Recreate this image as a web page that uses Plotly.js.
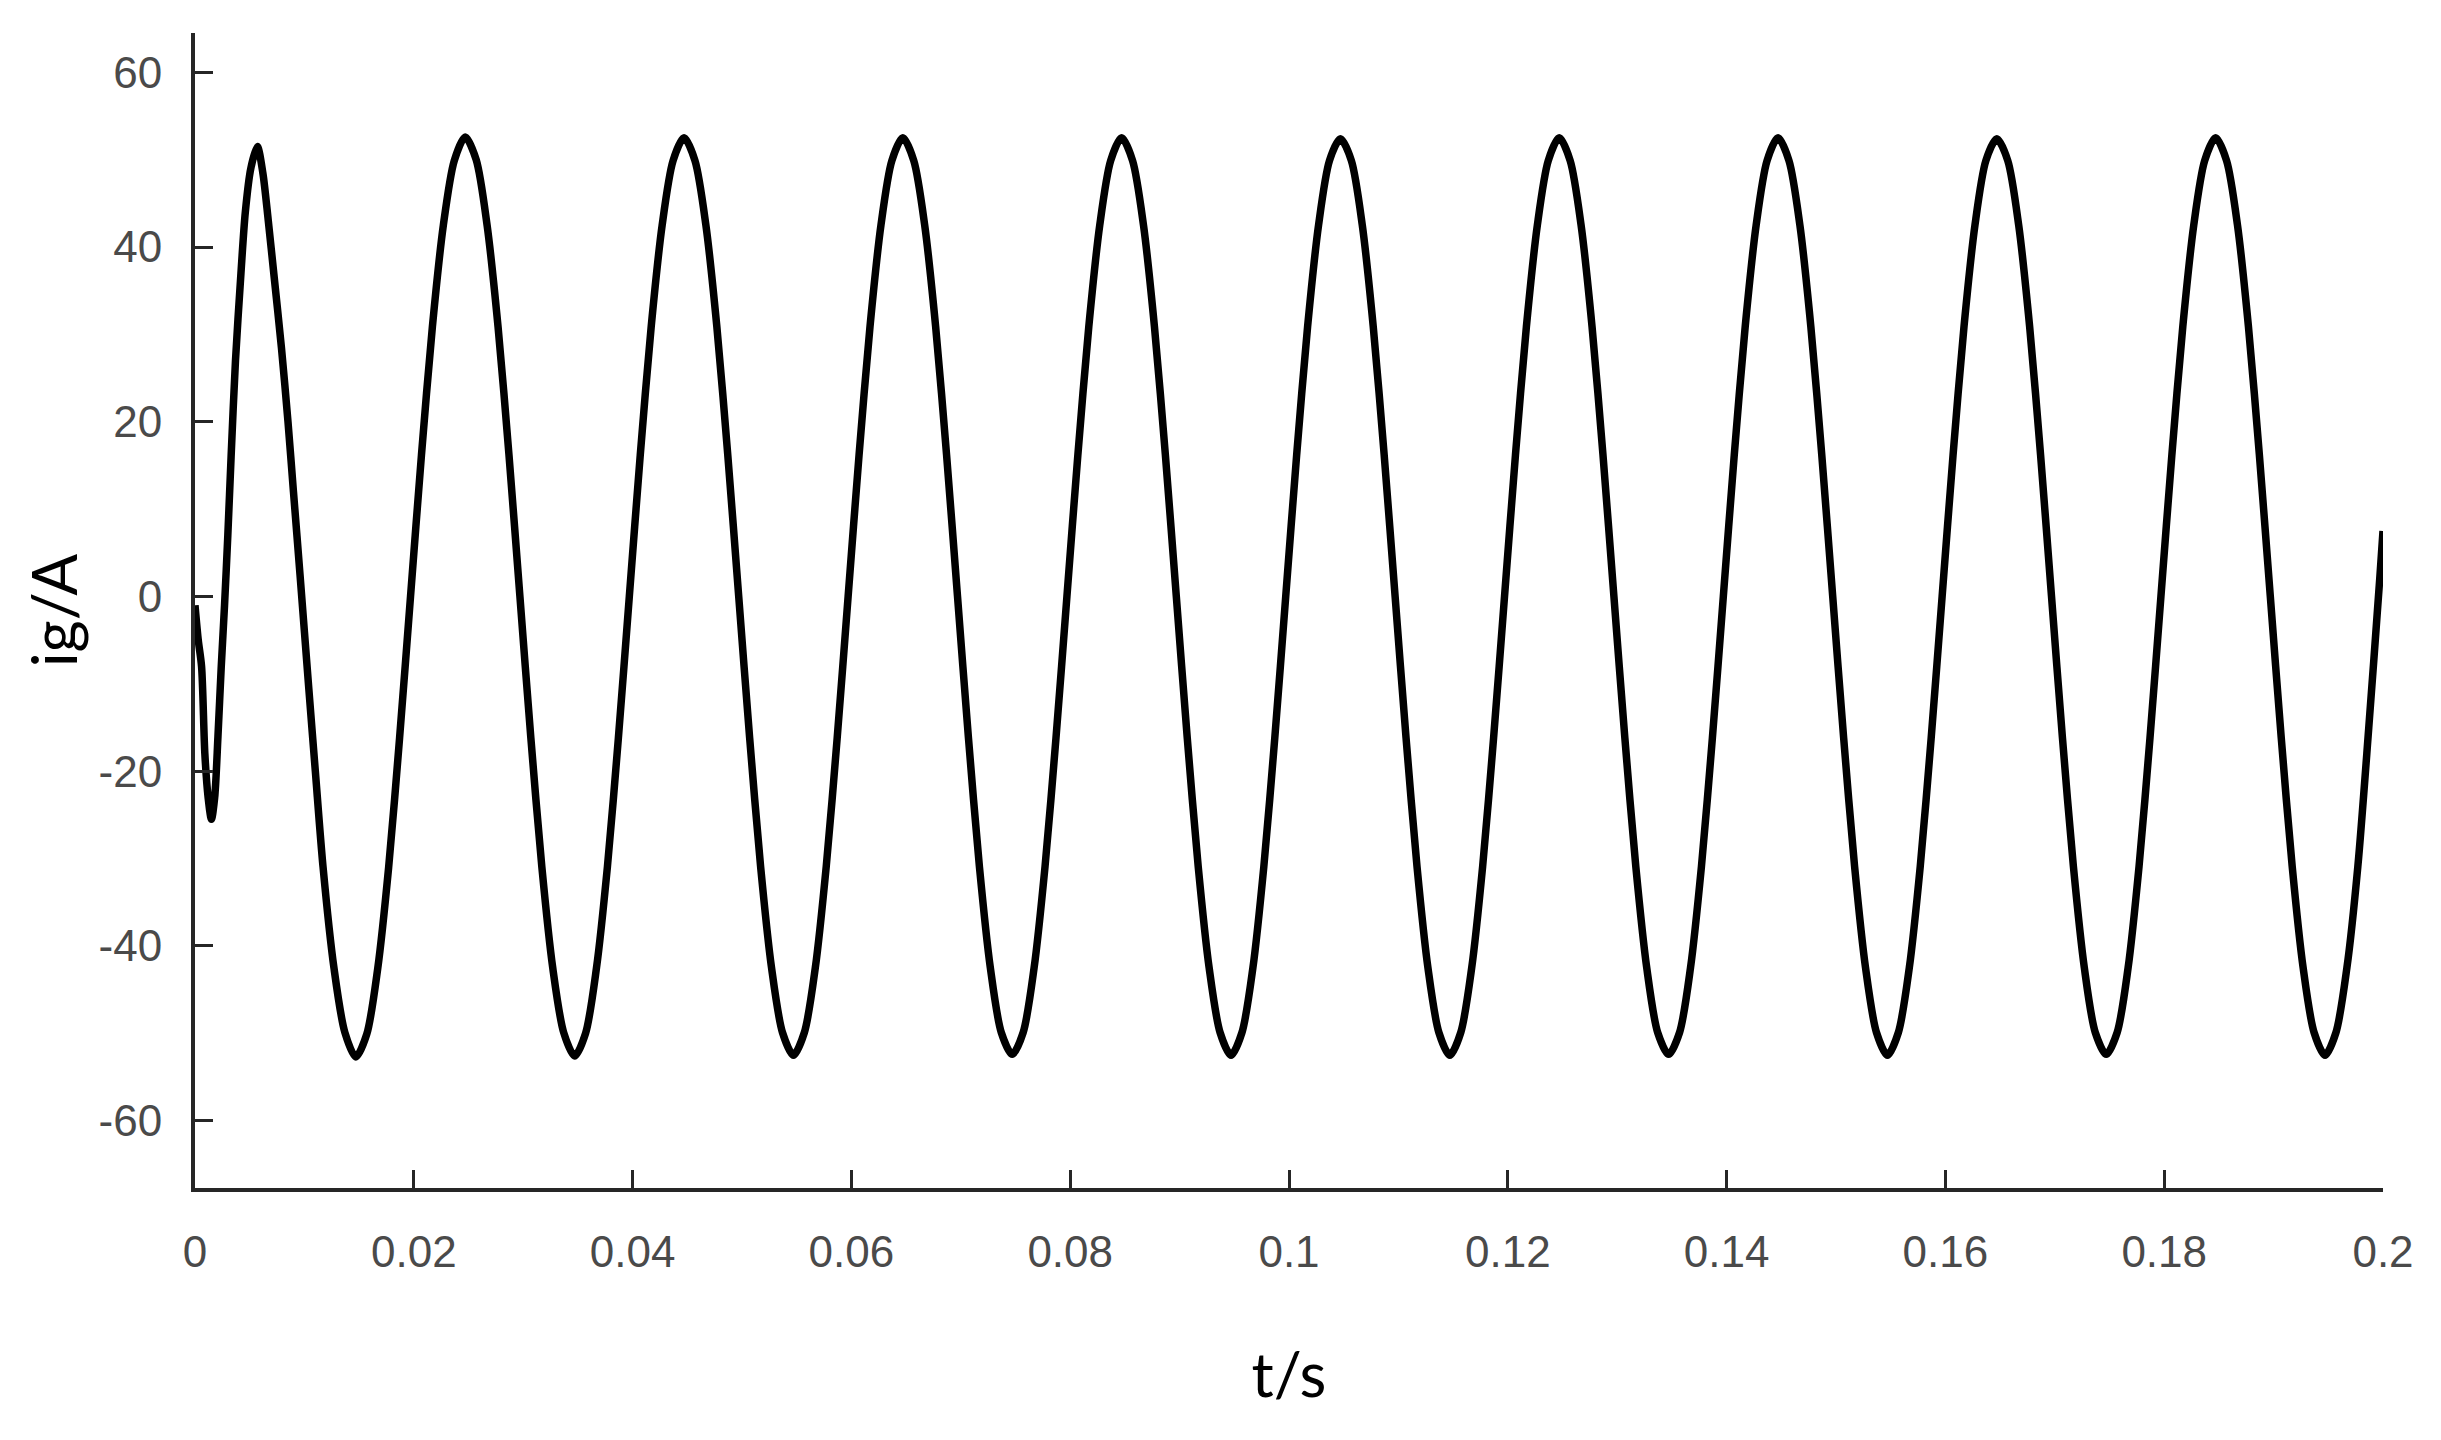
<!DOCTYPE html>
<html>
<head>
<meta charset="utf-8">
<script src="https://cdn.plot.ly/plotly-3.0.1.min.js"></script>
<style>
  html, body { margin: 0; padding: 0; background: #fff; }
  #graph { width: 2441px; height: 1440px; }
</style>
</head>
<body>
<div id="graph"></div>
<script>
// time axis (s)
const tStart = [0, 0.0003, 0.0006, 0.0009, 0.0012, 0.0015, 0.0018, 0.0021, 0.0024, 0.0027,
                0.003, 0.0033, 0.0037, 0.0042, 0.0046, 0.0051, 0.0057, 0.0062, 0.0067, 0.0072,
                0.0079, 0.0085, 0.009, 0.0096, 0.0104, 0.011, 0.0117, 0.0127, 0.0137];
const tRest = [
  0.0147,0.0157,0.0167,0.0177,0.0187,0.0197,0.0207,0.0217,0.0227,0.0237,0.0247,0.0257,0.0267,0.0277,0.0287,0.0297,0.0307,0.0317,0.0327,0.0337,
  0.0347,0.0357,0.0367,0.0377,0.0387,0.0397,0.0407,0.0417,0.0427,0.0437,0.0447,0.0457,0.0467,0.0477,0.0487,0.0497,0.0507,0.0517,0.0527,0.0537,
  0.0547,0.0557,0.0567,0.0577,0.0587,0.0597,0.0607,0.0617,0.0627,0.0637,0.0647,0.0657,0.0667,0.0677,0.0687,0.0697,0.0707,0.0717,0.0727,0.0737,
  0.0747,0.0757,0.0767,0.0777,0.0787,0.0797,0.0807,0.0817,0.0827,0.0837,0.0847,0.0857,0.0867,0.0877,0.0887,0.0897,0.0907,0.0917,0.0927,0.0937,
  0.0947,0.0957,0.0967,0.0977,0.0987,0.0997,0.1007,0.1017,0.1027,0.1037,0.1047,0.1057,0.1067,0.1077,0.1087,0.1097,0.1107,0.1117,0.1127,0.1137,
  0.1147,0.1157,0.1167,0.1177,0.1187,0.1197,0.1207,0.1217,0.1227,0.1237,0.1247,0.1257,0.1267,0.1277,0.1287,0.1297,0.1307,0.1317,0.1327,0.1337,
  0.1347,0.1357,0.1367,0.1377,0.1387,0.1397,0.1407,0.1417,0.1427,0.1437,0.1447,0.1457,0.1467,0.1477,0.1487,0.1497,0.1507,0.1517,0.1527,0.1537,
  0.1547,0.1557,0.1567,0.1577,0.1587,0.1597,0.1607,0.1617,0.1627,0.1637,0.1647,0.1657,0.1667,0.1677,0.1687,0.1697,0.1707,0.1717,0.1727,0.1737,
  0.1747,0.1757,0.1767,0.1777,0.1787,0.1797,0.1807,0.1817,0.1827,0.1837,0.1847,0.1857,0.1867,0.1877,0.1887,0.1897,0.1907,0.1917,0.1927,0.1937,
  0.1947,0.1957,0.1967,0.1977,0.1987,0.1997,0.2
];

// grid current ig (A)
const igStart = [-1, -5, -8, -18, -23, -25.5, -23, -16, -8, -1,
                 7, 16, 27, 37, 44, 49, 51.5, 48.5, 43, 37,
                 28.5, 20, 12, 2.5, -10.5, -20, -30.9, -42.5, -49.9];
const igRest = [
  -52.7,-50.1,-42.6,-31,-16.2,0,16.2,30.9,42.5,49.9,52.6,50,42.5,30.9,16.2,0,-16.2,-30.9,-42.5,-49.9,
  -52.6,-50,-42.5,-30.9,-16.2,0,16.2,30.9,42.5,49.9,52.5,49.9,42.5,30.9,16.2,0,-16.2,-30.9,-42.5,-49.9,
  -52.5,-49.9,-42.5,-30.9,-16.2,0,16.2,30.9,42.5,49.9,52.5,49.9,42.5,30.9,16.2,0,-16.2,-30.9,-42.5,-49.9,
  -52.4,-49.9,-42.5,-30.9,-16.2,0,16.2,30.9,42.5,49.9,52.5,49.9,42.5,30.9,16.2,0,-16.2,-30.9,-42.5,-49.9,
  -52.5,-49.9,-42.5,-30.9,-16.2,0,16.2,30.9,42.5,49.9,52.4,49.9,42.5,30.9,16.2,0,-16.2,-30.9,-42.5,-49.9,
  -52.5,-49.9,-42.5,-30.9,-16.2,0,16.2,30.9,42.5,49.9,52.5,49.9,42.5,30.9,16.2,0,-16.2,-30.9,-42.5,-49.9,
  -52.4,-49.9,-42.5,-30.9,-16.2,0,16.2,30.9,42.5,49.9,52.5,49.9,42.5,30.9,16.2,0,-16.2,-30.9,-42.5,-49.9,
  -52.5,-49.9,-42.5,-30.9,-16.2,0,16.2,30.9,42.5,49.9,52.4,49.9,42.5,30.9,16.2,0,-16.2,-30.9,-42.5,-49.9,
  -52.4,-49.9,-42.5,-30.9,-16.2,0,16.2,30.9,42.5,49.9,52.5,49.9,42.5,30.9,16.2,0,-16.2,-30.9,-42.5,-49.9,
  -52.5,-49.9,-42.5,-30.9,-15,2,7.5
];

const t = tStart.concat(tRest);
const ig = igStart.concat(igRest);

const xTicks = [0, 0.02, 0.04, 0.06, 0.08, 0.1, 0.12, 0.14, 0.16, 0.18, 0.2];
const xTickText = ['0', '0.02', '0.04', '0.06', '0.08', '0.1', '0.12', '0.14', '0.16', '0.18', '0.2'];
const yTicks = [-60, -40, -20, 0, 20, 40, 60];
const yTickText = ['-60', '-40', '-20', '0', '20', '40', '60'];

const tickFont = {family: 'Liberation Sans, Arial, sans-serif', size: 44, color: '#4a4a4a'};
const titleFont = {family: 'Lato, sans-serif', size: 62, color: '#000'};

let layout = {
    width: 2441,
    height: 1440,
    margin: {l: 195, r: 58, t: 33, b: 252, pad: 0},
    paper_bgcolor: '#fff',
    plot_bgcolor: '#fff',
    showlegend: false,
    xaxis: {
        range: [0, 0.2],
        tickvals: xTicks,
        ticktext: xTickText,
        ticks: 'inside',
        ticklen: 18,
        tickwidth: 3,
        tickcolor: '#262626',
        showline: true,
        linecolor: '#262626',
        linewidth: 4,
        showgrid: false,
        zeroline: false,
        tickfont: tickFont,
        ticklabelstandoff: 22,
        automargin: false,
        title: {text: 't/s', font: titleFont, standoff: 80}
    },
    yaxis: {
        range: [-67.7, 64.5],
        tickvals: yTicks,
        ticktext: yTickText,
        ticks: 'inside',
        ticklen: 18,
        tickwidth: 3,
        tickcolor: '#262626',
        showline: true,
        linecolor: '#262626',
        linewidth: 4,
        showgrid: false,
        zeroline: false,
        tickfont: tickFont,
        ticklabelstandoff: 20,
        automargin: false,
        title: {text: 'ig/A', font: titleFont, standoff: 2}
    }
};

Plotly.newPlot(
    'graph',
    [{
        mode: 'lines',
        type: 'scatter',
        x: t,
        y: ig,
        line: {color: '#000', width: 7.5, shape: 'spline', smoothing: 0.8},
        hoverinfo: 'skip'
    }],
    layout,
    {staticPlot: true}
);
</script>
</body>
</html>
